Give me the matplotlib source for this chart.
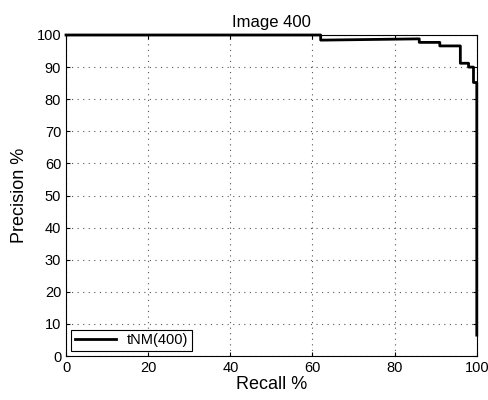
import matplotlib
matplotlib.use('Agg')
import matplotlib.pyplot as plt

plt.rcParams.update({
    'font.family': 'Liberation Sans',
    'font.size': 10,
})

# precision/recall curve (step-like)
recall = [0, 62, 62, 86, 86, 91, 91, 96, 96, 98, 98, 99.2, 99.2, 100, 100]
precision = [100, 100, 98.4, 98.8, 97.7, 97.7, 96.6, 96.6, 91.2, 91.2, 90.0, 90.0, 85.2, 85.2, 6.5]
series_label = 'tNM(400)'
ticks = list(range(0, 101, 20))
yticks = list(range(0, 101, 10))

fig = plt.figure(figsize=(4.89, 4.00), dpi=100)
ax = fig.add_axes([0.135, 0.11, 0.84, 0.8025])

ax.plot(recall, precision, color='black', lw=2, label=series_label, clip_on=False)

ax.set_xlim(0, 100)
ax.set_ylim(0, 100)
ax.set_xticks(ticks)
ax.set_yticks(yticks)
ax.grid(True, ls=(0, (1, 4)), color='#555555', lw=0.8)
ax.tick_params(direction='in', top=True, right=True, length=3, labelsize=10.5)
for s in ax.spines.values():
    s.set_linewidth(0.8)

ax.set_xlabel('Recall %', fontsize=13, labelpad=1)
ax.set_ylabel('Precision %', fontsize=13, labelpad=6)
ax.set_title('Image 400', fontsize=12, pad=6)

leg = ax.legend(loc='lower left', fancybox=False, edgecolor='black',
                framealpha=1, fontsize=10.5, handlelength=2.8,
                borderpad=0.25, borderaxespad=0.35)
leg.get_frame().set_linewidth(0.8)

fig.savefig('out.png', dpi=100, facecolor='white')
